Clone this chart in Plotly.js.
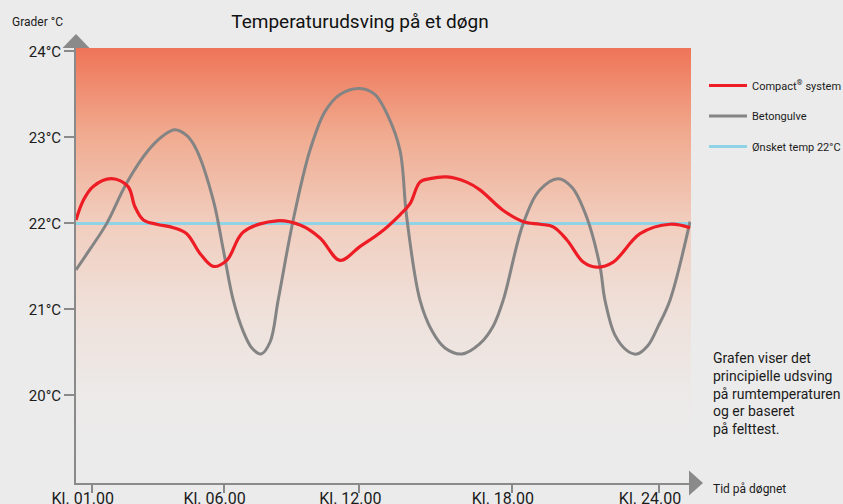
<!DOCTYPE html>
<html>
<head>
<meta charset="utf-8">
<script src="https://cdn.plot.ly/plotly-3.0.1.min.js"></script>
<style>html,body{margin:0;padding:0;background:#EBEBEB;}</style>
</head>
<body>
<div id="chart" style="width:843px;height:504px;"></div>
<script>
// ---- data ----
const xTickVals = [0.64, 6.0, 11.52, 17.72, 23.70];
const xTickText = ['Kl. 01.00', 'Kl. 06.00', 'Kl. 12.00', 'Kl. 18.00', 'Kl. 24.00'];
const yTickVals = [20, 21, 22, 23, 24];
const yTickText = ['20°C', '21°C', '22°C', '23°C', '24°C'];

const compactX = [0, 0.30, 0.70, 1.45, 2.11, 2.40, 2.74, 3.28, 3.96, 4.50, 5.04, 5.58, 6.13, 6.80, 8.16, 9.11, 9.92, 10.73, 11.54, 12.36, 13.17, 13.58, 13.98, 14.39, 15.07, 15.88, 16.42, 17.37, 18.18, 18.86, 19.40, 19.95, 20.62, 21.17, 21.84, 22.93, 24.15, 24.96];
const compactY = [22.04, 22.27, 22.43, 22.52, 22.43, 22.19, 22.04, 21.99, 21.95, 21.88, 21.65, 21.50, 21.57, 21.90, 22.03, 21.98, 21.83, 21.57, 21.73, 21.89, 22.10, 22.23, 22.48, 22.52, 22.54, 22.48, 22.39, 22.15, 22.02, 21.99, 21.96, 21.81, 21.55, 21.49, 21.55, 21.88, 21.99, 21.95];

const betonX = [0, 0.57, 1.25, 2.06, 2.94, 3.54, 4.02, 4.51, 4.91, 5.58, 5.99, 6.39, 6.79, 7.15, 7.52, 7.89, 8.22, 8.83, 9.51, 10.12, 10.73, 11.54, 12.15, 12.68, 13.17, 13.44, 13.98, 14.47, 15.0, 15.69, 16.42, 16.95, 17.37, 18.18, 18.86, 19.60, 20.16, 20.75, 21.30, 21.50, 21.91, 22.40, 22.80, 23.25, 23.66, 24.15, 24.96];
const betonY = [21.46, 21.70, 22.0, 22.47, 22.85, 23.02, 23.09, 23.02, 22.85, 22.27, 21.69, 21.11, 20.75, 20.55, 20.48, 20.62, 21.11, 22.04, 22.85, 23.30, 23.50, 23.57, 23.50, 23.25, 22.85, 22.08, 21.11, 20.75, 20.55, 20.48, 20.60, 20.80, 21.11, 22.0, 22.39, 22.52, 22.42, 22.08, 21.50, 21.11, 20.70, 20.52, 20.48, 20.58, 20.80, 21.11, 22.02];

const targetTemp = 22;
const seriesNames = ['Compact<sup>®</sup> system', 'Betongulve', 'Ønsket temp 22°C'];
const noteLines = ['Grafen viser det', 'principielle udsving', 'på rumtemperaturen', 'og er baseret', 'på felttest.'];

// ---- layout geometry ----
const W = 843, H = 504;
const plotLeft = 76, plotRight = 691, plotTop = 48, plotBottom = 483;
const xRange = [0, 25];
const yRange = [18.98, 24.04];
const pY = py => (plotBottom - py) / (plotBottom - plotTop);
const pX = px => (px - plotLeft) / (plotRight - plotLeft);

const FONT = 'Roboto, "Open Sans", sans-serif';
const TXT = '#1b1b1b';
const AXC = '#8a8a8b';

const traces = [
  { // background gradient
    x: [xRange[0], xRange[1], xRange[1], xRange[0], xRange[0]],
    y: [yRange[0], yRange[0], yRange[1], yRange[1], yRange[0]],
    type: 'scatter', mode: 'lines', fill: 'toself',
    line: {width: 0, color: 'rgba(0,0,0,0)'},
    fillgradient: {
      type: 'vertical', start: yRange[0], stop: yRange[1],
      colorscale: [
        [0, '#EBEBEC'], [0.2, '#ECEAE9'], [0.4, '#EFE0D9'],
        [0.6, '#F1CDBE'], [0.8, '#F0AB90'], [1, '#EF7457']
      ]
    },
    hoverinfo: 'skip', showlegend: false
  },
  {
    x: [xRange[0], xRange[1]], y: [targetTemp, targetTemp],
    type: 'scatter', mode: 'lines', name: seriesNames[2],
    line: {color: '#8ED3E6', width: 3}, legendrank: 3, legendgroup: 'c'
  },
  {
    x: betonX, y: betonY, type: 'scatter', mode: 'lines', name: seriesNames[1],
    line: {color: '#848485', width: 3, shape: 'spline', smoothing: 1}, legendrank: 2, legendgroup: 'b'
  },
  {
    x: compactX, y: compactY, type: 'scatter', mode: 'lines', name: seriesNames[0],
    line: {color: '#EE1C25', width: 3.2, shape: 'spline', smoothing: 1}, legendrank: 1, legendgroup: 'a'
  }
];

const annotations = [
  {text: 'Grader °C', xref: 'paper', yref: 'paper', x: pX(10), y: pY(22), xanchor: 'left', yanchor: 'middle',
   showarrow: false, font: {family: FONT, size: 12, color: TXT}},
  {text: 'Tid på døgnet', xref: 'paper', yref: 'paper', x: pX(711), y: pY(489), xanchor: 'left', yanchor: 'middle',
   showarrow: false, font: {family: FONT, size: 12, color: TXT}}
];
noteLines.forEach((t, i) => annotations.push({
  text: t, xref: 'paper', yref: 'paper', x: pX(711), y: pY(358 + i * 17.8), xanchor: 'left', yanchor: 'middle',
  showarrow: false, font: {family: FONT, size: 14, color: TXT}
}));

const layout = {
  width: W, height: H,
  margin: {l: plotLeft, r: W - plotRight, t: plotTop, b: H - plotBottom, pad: 0, autoexpand: false},
  paper_bgcolor: '#EBEBEB', plot_bgcolor: 'rgba(0,0,0,0)',
  title: {text: 'Temperaturudsving på et døgn', x: 360 / W, xanchor: 'center', xref: 'container',
          y: 1 - 21 / H, yanchor: 'middle', yref: 'container',
          font: {family: FONT, size: 19, color: '#111'}},
  xaxis: {range: xRange, showgrid: false, zeroline: false, showline: true, linecolor: AXC, linewidth: 2,
          tickvals: xTickVals, ticktext: xTickText, ticks: 'outside', ticklen: 8, tickwidth: 2, tickcolor: AXC,
          ticklabelshift: -9, ticklabelstandoff: -8, tickfont: {family: FONT, size: 16, color: TXT}, fixedrange: true},
  yaxis: {range: yRange, showgrid: false, zeroline: false, showline: true, linecolor: AXC, linewidth: 2,
          tickvals: yTickVals, ticktext: yTickText, ticks: 'outside', ticklen: 10, tickwidth: 2, tickcolor: AXC,
          tickfont: {family: FONT, size: 15, color: TXT}, fixedrange: true},
  showlegend: true,
  legend: {x: pX(704), y: pY(71), xanchor: 'left', yanchor: 'top', bgcolor: 'rgba(0,0,0,0)',
           itemwidth: 38, traceorder: 'grouped', tracegroupgap: 11.5,
           font: {family: FONT, size: 11, color: TXT}},
  annotations: annotations,
  shapes: [
    {type: 'path', xref: 'paper', yref: 'paper', xsizemode: 'pixel', ysizemode: 'pixel', xanchor: 0, yanchor: 1,
     path: 'M-13.5,0 L13.5,0 L0,14 Z', fillcolor: AXC, line: {width: 0}},
    {type: 'path', xref: 'paper', yref: 'paper', xsizemode: 'pixel', ysizemode: 'pixel', xanchor: 1, yanchor: 0,
     path: 'M-2,12.5 L-2,-12.5 L12,0 Z', fillcolor: AXC, line: {width: 0}}
  ],
  hovermode: false
};

Plotly.newPlot('chart', traces, layout, {displayModeBar: false, staticPlot: true});
</script>
</body>
</html>
